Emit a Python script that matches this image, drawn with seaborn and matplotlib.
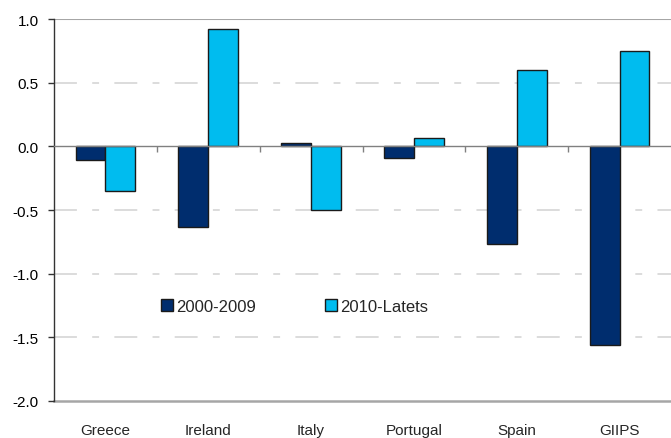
import matplotlib
matplotlib.use("Agg")
import matplotlib.pyplot as plt
import seaborn as sns
import pandas as pd
import numpy as np

categories = ["Greece", "Ireland", "Italy", "Portugal", "Spain", "GIIPS"]
series_names = ["2000-2009", "2010-Latets"]
vals_2000_2009 = [-0.11, -0.63, 0.03, -0.09, -0.77, -1.56]
vals_2010_latest = [-0.35, 0.92, -0.50, 0.065, 0.60, 0.745]
y_ticks = [1.0, 0.5, 0.0, -0.5, -1.0, -1.5, -2.0]

sns.set_style("white")
plt.rcParams['font.family'] = ['Liberation Sans', 'DejaVu Sans']
plt.rcParams['font.size'] = 11

df = pd.DataFrame({
    "country": categories * 2,
    "value": vals_2000_2009 + vals_2010_latest,
    "period": [series_names[0]] * len(categories) + [series_names[1]] * len(categories),
})

fig = plt.figure(figsize=(6.71, 4.39), dpi=100)
ax = fig.add_axes([0.0805, 0.0843, 0.9195, 0.8701])

palette = {series_names[0]: "#002D6E", series_names[1]: "#00BCEF"}
sns.barplot(data=df, x="country", y="value", hue="period", order=categories,
            hue_order=series_names, palette=palette, width=0.58, gap=0,
            edgecolor="#1a1a1a", linewidth=1.0, saturation=1, ax=ax, zorder=3)

ax.set_xlim(-0.5, len(categories) - 0.5)
ax.set_ylim(-2.0, 1.0)
ax.set_yticks(y_ticks)
ax.set_yticklabels([f"{t:.1f}" for t in y_ticks])
ax.set_xlabel("")
ax.set_ylabel("")

# dashed gridlines (long dash / short dash pattern)
for t in y_ticks:
    if t in (1.0, 0.0, -2.0):
        continue
    ax.axhline(t, color="#d2d2d2", lw=1.1, ls=(0, (15, 10, 4.5, 10)), zorder=1)
ax.axhline(1.0, color="#a6a6a6", lw=1.5, zorder=1)

# spines
ax.spines['top'].set_visible(False)
ax.spines['right'].set_visible(False)
ax.spines['left'].set_color("#333333")
ax.spines['left'].set_linewidth(1.0)
ax.spines['bottom'].set_position(('data', 0))
ax.spines['bottom'].set_color("#808080")
ax.spines['bottom'].set_linewidth(1.0)
ax.spines['bottom'].set_zorder(4)

ax.tick_params(axis='y', direction='out', length=4.5, width=1, color="#333333",
               left=True, labelsize=11, labelcolor="black", pad=6.5)
ax.set_xticks(np.arange(len(categories) - 1) + 0.5)
ax.tick_params(axis='x', direction='out', length=4.5, width=1, color="#808080",
               bottom=True, labelbottom=False)

# category labels on a secondary axis at the bottom
sec = ax.secondary_xaxis(0)
sec.set_xticks(np.arange(len(categories)))
sec.set_xticklabels(categories)
sec.tick_params(axis='x', length=0, pad=15.5, labelsize=11)
sec.spines['bottom'].set_color("#a6a6a6")
sec.spines['bottom'].set_linewidth(1.8)

leg = ax.legend(loc='center left', bbox_to_anchor=(0.173, 0.248), ncol=2,
                frameon=False, handlelength=0.72, handleheight=0.72,
                handletextpad=0.2, columnspacing=4.15, borderpad=0,
                borderaxespad=0, fontsize=12)
for h in leg.legend_handles:
    h.set_edgecolor("#1a1a1a")
    h.set_linewidth(1.0)

fig.savefig("out.png", dpi=100)
